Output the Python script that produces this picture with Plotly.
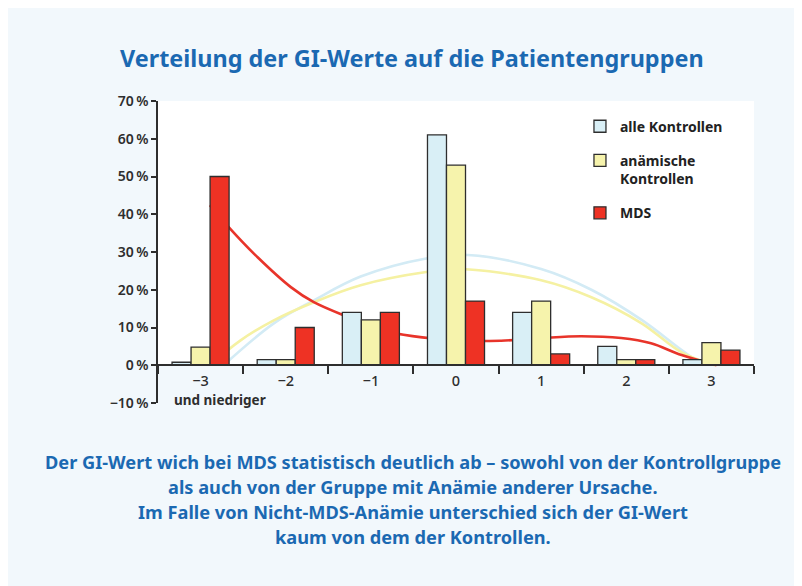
import plotly.graph_objects as go

# GI-Wert Klassen
gi_labels = ['\u22123', '\u22122', '\u22121', '0', '1', '2', '3']
gi_pos = [0, 1, 2, 3, 4, 5, 6]

# Anteile in %
alle_kontrollen = [0.8, 1.5, 14, 61, 14, 5, 1.5]
anaemische = [4.8, 1.5, 12, 53, 17, 1.5, 6]
mds = [50, 10, 14, 17, 3, 1.5, 4]

# Verteilungskurven
kurve_alle_x = [0.27, 0.86, 1.33, 1.88, 2.65, 3.14, 4.0, 4.59, 5.18, 5.65, 5.9]
kurve_alle_y = [0, 11.1, 17.2, 23.5, 28.3, 29.2, 25.5, 20, 12, 4, 0]
kurve_anae_x = [0.11, 0.47, 0.86, 1.33, 1.88, 2.65, 3.06, 4.0, 4.59, 5.18, 5.65, 6.04]
kurve_anae_y = [0, 6.6, 11.9, 16.7, 21.2, 24.7, 25.5, 22.5, 18, 11.1, 3.4, 0]
kurve_mds_x = [0.11, 0.33, 0.67, 1.06, 1.33, 1.76, 2.12, 3.0, 3.53, 4.0, 4.47, 4.94, 5.29, 5.65, 6.06]
kurve_mds_y = [42.4, 36.6, 28.6, 20.7, 16.7, 12.5, 9.3, 6.6, 6.5, 7.2, 7.7, 7.2, 5.8, 2.7, 0]

y_ticks = [-10, 0, 10, 20, 30, 40, 50, 60, 70]
y_ticktext = ['\u221210\u2009%', '0\u2009%', '10\u2009%', '20\u2009%', '30\u2009%',
              '40\u2009%', '50\u2009%', '60\u2009%', '70\u2009%']

BLUE_TXT = '#1b69b2'
DARK = '#2e2e2e'
BG = '#f2f8fc'
FONT = 'Noto Sans'

fig = go.Figure()

# curves on base axes (drawn below the bars)
fig.add_trace(go.Scatter(x=kurve_alle_x, y=kurve_alle_y, mode='lines', line_shape='spline',
                         line=dict(color='#d3ebf5', width=2.6), showlegend=False, hoverinfo='skip'))
fig.add_trace(go.Scatter(x=kurve_anae_x, y=kurve_anae_y, mode='lines', line_shape='spline',
                         line=dict(color='#f5f1a2', width=2.6), showlegend=False, hoverinfo='skip'))
fig.add_trace(go.Scatter(x=kurve_mds_x, y=kurve_mds_y, mode='lines', line_shape='spline',
                         line=dict(color='#e8342a', width=2.6), showlegend=False, hoverinfo='skip'))

# bars on overlaying axes
bar_line = dict(color=DARK, width=1.3)
fig.add_trace(go.Bar(x=gi_pos, y=alle_kontrollen, name='alle Kontrollen', xaxis='x2', yaxis='y2',
                     marker=dict(color='#d9eff6', line=bar_line), legendgroup='a'))
fig.add_trace(go.Bar(x=gi_pos, y=anaemische, name='anämische<br>Kontrollen', xaxis='x2', yaxis='y2',
                     marker=dict(color='#f6f3ac', line=bar_line), legendgroup='b'))
fig.add_trace(go.Bar(x=gi_pos, y=mds, name='MDS', xaxis='x2', yaxis='y2',
                     marker=dict(color='#ee3224', line=bar_line), legendgroup='c'))

fig.update_layout(
    width=802, height=586,
    margin=dict(l=150, r=56, t=93, b=191),
    paper_bgcolor=BG, plot_bgcolor=BG,
    font=dict(family=FONT, color=DARK),
    barmode='group', bargap=0.33, bargroupgap=0,
    xaxis=dict(range=[-0.5, 6.5], anchor='free', position=0.125, showline=True,
               linecolor=DARK, linewidth=1.5, showgrid=False, zeroline=False,
               tickvals=gi_pos, ticktext=gi_labels, ticks='', ticklabelstandoff=3,
               tickfont=dict(size=14.5, color=DARK, family=FONT, weight=500),
               minor=dict(tickvals=[-0.5, 0.5, 1.5, 2.5, 3.5, 4.5, 5.5, 6.5], ticks='outside',
                          ticklen=8, tickwidth=1.5, tickcolor=DARK, showgrid=False)),
    yaxis=dict(range=[-10, 70], tickvals=y_ticks, ticktext=y_ticktext, showline=True,
               linecolor=DARK, linewidth=1.5, ticks='outside', ticklen=5, tickwidth=1.5,
               tickcolor=DARK, showgrid=False, zeroline=False,
               tickfont=dict(size=14, color=DARK, family=FONT, weight=600)),
    xaxis2=dict(range=[-0.5, 6.5], overlaying='x', visible=False),
    yaxis2=dict(range=[-10, 70], overlaying='y', visible=False),
    legend=dict(x=0.708, y=0.968, xanchor='left', yanchor='top', bgcolor='rgba(0,0,0,0)',
                font=dict(size=14, color='#222222', family=FONT, weight='bold'), valign='top',
                tracegroupgap=13, itemwidth=30),
    showlegend=True,
)

# white plot area above zero line
fig.add_shape(type='rect', xref='x', yref='y', x0=-0.5, x1=6.5, y0=0, y1=70,
              fillcolor='white', line=dict(width=0), layer='below')

fig.add_annotation(text='<b>Verteilung der GI-Werte auf die Patientengruppen</b>',
                   xref='paper', yref='paper', x=0.426, y=1.142, showarrow=False,
                   xanchor='center', yanchor='middle',
                   font=dict(size=23.4, color=BLUE_TXT, family=FONT))
fig.add_annotation(text='<b>und niedriger</b>', xref='x', yref='y', x=0.23, y=-9.3,
                   showarrow=False, xanchor='center', yanchor='middle',
                   font=dict(size=13.5, color=DARK, family=FONT))

bottom_lines = [
    'Der GI-Wert wich bei MDS statistisch deutlich ab \u2013 sowohl von der Kontrollgruppe',
    'als auch von der Gruppe mit Anämie anderer Ursache.',
    'Im Falle von Nicht-MDS-Anämie unterschied sich der GI-Wert',
    'kaum von dem der Kontrollen.',
]
for i, line in enumerate(bottom_lines):
    fig.add_annotation(text='<b>' + line + '</b>', xref='paper', yref='paper',
                       x=0.428, y=-0.195 - i * 0.0828, showarrow=False,
                       xanchor='center', yanchor='middle',
                       font=dict(size=18.2, color=BLUE_TXT, family=FONT))

fig.write_html('out.html')
